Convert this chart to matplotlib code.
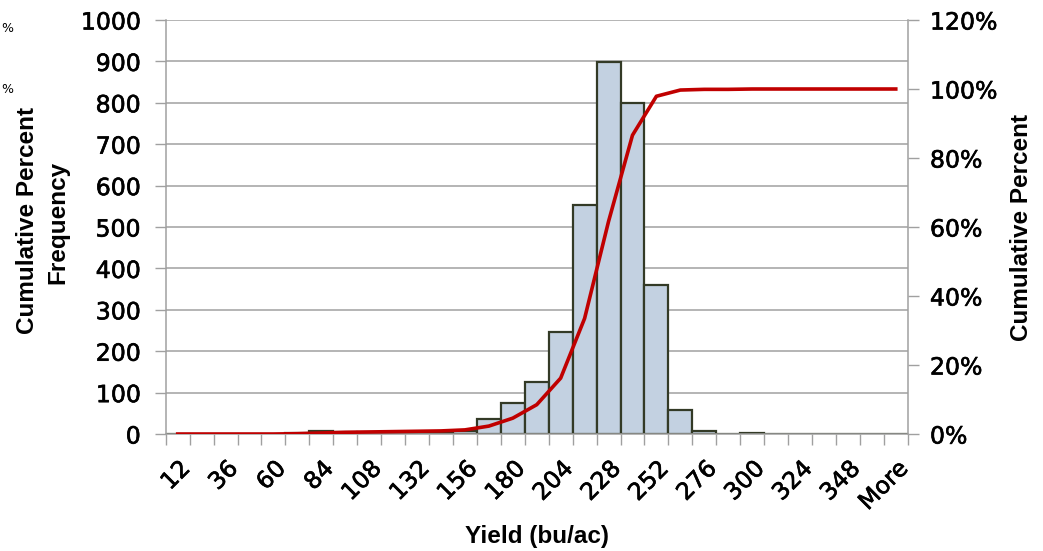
import numpy as np
import matplotlib.pyplot as plt
import matplotlib.patheffects as pe

#========================== data ===========================#
bins = ['12', '24', '36', '48', '60', '72', '84', '96', '108', '120', '132', '144',
        '156', '168', '180', '192', '204', '216', '228', '240', '252', '264', '276',
        '288', '300', '312', '324', '336', '348', '360', 'More']
freq = [0, 0, 0, 0, 0, 3, 7, 5, 4, 3, 3, 4, 8, 36, 75, 125, 246, 553, 898, 800,
        360, 58, 7, 0, 2, 0, 0, 1, 0, 0, 0]
cum_pct = [0, 0, 0, 0, 0, 0.1, 0.3, 0.5, 0.6, 0.7, 0.8, 0.9, 1.2, 2.3, 4.6, 8.5,
           16.2, 33.5, 61.6, 86.6, 97.9, 99.7, 99.9, 99.9, 100, 100, 100, 100,
           100, 100, 100]

tick_font = 'DejaVu Sans'
lab_font = 'Liberation Sans'
grey = '#a0a0a0'
tfs = 17  # tick label size
heavy = [pe.withStroke(linewidth=0.45, foreground='black')]  # tick text is a bit heavier

#========================== figure ===========================#
fig = plt.figure(figsize=(10.43, 5.51), dpi=100)
ax = fig.add_axes([0.1589, 0.2123, 0.8703 - 0.1589, 0.9637 - 0.2123])
x = np.arange(len(bins))

ax.bar(x, freq, width=1.0, color='#c3d1e1', edgecolor='#333a26', linewidth=1.6, zorder=2)
ax.set_xlim(-0.5, len(bins) - 0.5)
ax.set_ylim(0, 1000)
ax.set_yticks(np.arange(0, 1001, 100))
ax.yaxis.grid(True, color=grey, linewidth=1.1)
ax.set_axisbelow(True)

# category boundaries get the tick marks, every other centre gets a label
ax.set_xticks(x[::2])
ax.set_xticklabels(bins[::2], rotation=45, ha='right', rotation_mode='anchor',
                   fontsize=tfs, family=tick_font)
ax.set_xticks(np.arange(-0.5, len(bins)), minor=True)
ax.tick_params(axis='x', which='major', length=0, pad=16)
ax.tick_params(axis='x', which='minor', length=8, color=grey, width=1)
ax.tick_params(axis='y', length=8, color=grey, width=1, pad=10)
for lbl in ax.get_yticklabels():
    lbl.set_fontsize(tfs)
    lbl.set_family(tick_font)

for s in ['left', 'right', 'bottom']:
    ax.spines[s].set_color(grey)
    ax.spines[s].set_linewidth(1.1)
ax.spines['top'].set_visible(False)

#========================== cumulative ===========================#
ax2 = ax.twinx()
ax2.plot(x, cum_pct, color='#c00000', linewidth=2.6, zorder=3)
ax2.set_ylim(0, 120)
ax2.set_yticks(np.arange(0, 121, 20))
ax2.set_yticklabels(['{}%'.format(v) for v in range(0, 121, 20)],
                    fontsize=tfs, family=tick_font)
ax2.tick_params(axis='y', length=8, color=grey, width=1, pad=8)
for s in ax2.spines.values():
    s.set_visible(False)

for lbl in ax.get_xticklabels() + ax.get_yticklabels() + ax2.get_yticklabels():
    lbl.set_path_effects(heavy)

#========================== labels ===========================#
fig.text(537 / 1043, 1 - 536 / 551, 'Yield (bu/ac)', ha='center', va='center',
         fontsize=17.5, fontweight='bold', family=lab_font)
fig.text(28 / 1043, 1 - 220 / 551, 'Cumulative Percent', rotation=90, ha='center',
         va='center', fontsize=17.5, fontweight='bold', family=lab_font)
fig.text(58 / 1043, 1 - 222 / 551, 'Frequency', rotation=90, ha='center',
         va='center', fontsize=17.5, fontweight='bold', family=lab_font)
fig.text(1022 / 1043, 1 - 228 / 551, 'Cumulative Percent', rotation=90, ha='center',
         va='center', fontsize=17.5, fontweight='bold', family=lab_font)

# remnants of another chart's labels at the left edge
fig.text(1 / 1043, 1 - 29 / 551, '%', ha='left', va='center', fontsize=9, family=tick_font)
fig.text(1 / 1043, 1 - 89 / 551, '%', ha='left', va='center', fontsize=9, family=tick_font)

plt.savefig('out.png', dpi=100)
plt.close()
